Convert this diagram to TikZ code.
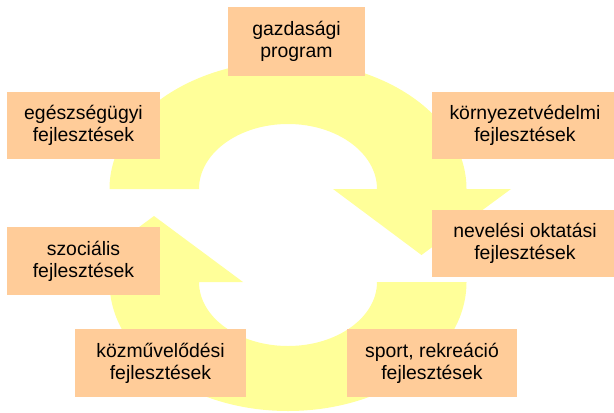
\documentclass[tikz,border=0pt]{standalone}
\usepackage{fontspec}
\setmainfont{Liberation Sans}
\definecolor{ringyellow}{HTML}{FFFF99}
\definecolor{boxpeach}{HTML}{FFCC99}
\begin{document}
\begin{tikzpicture}[x=1bp,y=1bp,
  infobox/.style={fill=boxpeach,draw=none,inner sep=0pt,align=center,
    font=\fontsize{19.4bp}{22bp}\selectfont,text=black}]
\useasboundingbox (0,0) rectangle (614,412);
% upper half ring with arrowhead (right, pointing down)
\fill[ringyellow] (109.5,223) arc[start angle=180,end angle=0,x radius=178.5bp,y radius=128bp]
  -- (511,223) -- (421.5,157) -- (333,223) -- (377,223)
  arc[start angle=0,end angle=180,x radius=89bp,y radius=65bp] -- cycle;
% lower half ring with arrowhead (left, pointing up)
\fill[ringyellow] (377,130) arc[start angle=0,end angle=-180,x radius=89bp,y radius=64bp]
  -- (243,130) -- (154,196) -- (65,130) -- (109.5,130)
  arc[start angle=180,end angle=360,x radius=178.5bp,y radius=129bp] -- cycle;
% boxes
\node[infobox,minimum width=137bp,minimum height=69bp] (gazd) at (296.5,370.5) {gazdasági\\program};
\node[infobox,minimum width=153bp,minimum height=67bp] (egesz) at (83.5,286.5) {egészségügyi\\fejlesztések};
\node[infobox,minimum width=153bp,minimum height=68bp] (szoc) at (83.5,151) {szociális\\fejlesztések};
\node[infobox,minimum width=171bp,minimum height=68bp] (kozm) at (160.5,49) {közművelődési\\fejlesztések};
\node[infobox,minimum width=170bp,minimum height=68bp] (sport) at (432,49) {sport, rekreáció\\fejlesztések};
\node[infobox,minimum width=186bp,minimum height=67bp] (korny) at (525,286.5) {környezetvédelmi\\fejlesztések};
\node[infobox,minimum width=186bp,minimum height=67bp] (nev) at (525,168.5) {nevelési oktatási\\fejlesztések};
\end{tikzpicture}
\end{document}
